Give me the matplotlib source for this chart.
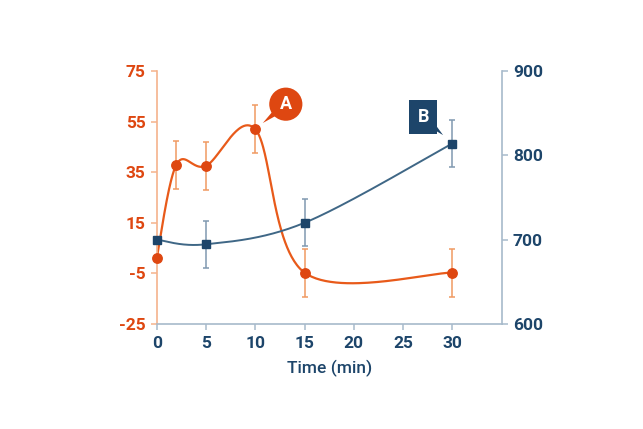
import numpy as np
import matplotlib
matplotlib.use("Agg")
import matplotlib.pyplot as plt

plt.rcParams['font.family'] = ['Roboto', 'DejaVu Sans']
plt.rcParams['axes.unicode_minus'] = False

## data
time_a = [0, 2, 5, 10, 15, 30]
vals_a = [1, 38, 37.5, 52, -4.7, -4.7]
err_a = [0, 9.5, 9.5, 9.5, 9.5, 9.5]

time_b = [0, 5, 15, 30]
vals_b = [700, 694.5, 720, 814]
err_b = [0, 28, 28, 28]

x_ticks = [0, 5, 10, 15, 20, 25, 30]
left_ticks = [-25, -5, 15, 35, 55, 75]
right_ticks = [600, 700, 800, 900]

## colours
ORANGE = '#E85A1A'
ORANGE_DARK = '#DE4711'
ORANGE_ERR = '#F09A62'
ORANGE_SPINE = '#F5B38C'
NAVY = '#1D456A'
BLUE_LINE = '#3F6786'
BLUE_ERR = '#8099B0'
GREY_SPINE = '#A7BACB'


def smooth_curve(x, y, n=60):
    # catmull-rom through the points (same as a cardinal spline, tension 0.5)
    p = np.column_stack([x, y]).astype(float)
    p = np.vstack([p[0], p, p[-1]])
    out = []
    t = np.linspace(0, 1, n)[:, None]
    for i in range(1, len(p) - 2):
        p0, p1, p2, p3 = p[i - 1], p[i], p[i + 1], p[i + 2]
        m1 = (p2 - p0) / 2
        m2 = (p3 - p1) / 2
        h00 = 2 * t ** 3 - 3 * t ** 2 + 1
        h10 = t ** 3 - 2 * t ** 2 + t
        h01 = -2 * t ** 3 + 3 * t ** 2
        h11 = t ** 3 - t ** 2
        out.append(h00 * p1 + h10 * m1 + h01 * p2 + h11 * m2)
    out = np.vstack(out)
    return out[:, 0], out[:, 1]


fig = plt.figure(figsize=(6.43, 4.29), dpi=100)
ax = fig.add_axes([0.2437, 0.2448, 0.5365, 0.5897])
ax2 = ax.twinx()

# series A (left axis)
xs, ys = smooth_curve(time_a, vals_a)
ax.plot(xs, ys, color=ORANGE, lw=1.6, zorder=2)
ax.errorbar(time_a[1:], vals_a[1:], yerr=err_a[1:], fmt='none', ecolor=ORANGE_ERR,
            elinewidth=1.1, capsize=2, capthick=1.1, zorder=3)
ax.plot(time_a, vals_a, 'o', color=ORANGE_DARK, ms=6.8, zorder=4, clip_on=False)

# series B (right axis)
xs, ys = smooth_curve(time_b, vals_b)
ax2.plot(xs, ys, color=BLUE_LINE, lw=1.4, zorder=2)
ax2.errorbar(time_b[1:], vals_b[1:], yerr=err_b[1:], fmt='none', ecolor=BLUE_ERR,
             elinewidth=1.1, capsize=2, capthick=1.1, zorder=3)
ax2.plot(time_b, vals_b, 's', color=NAVY, ms=6.3, zorder=4, clip_on=False)

ax.set_xlim(0, 35)
ax.set_ylim(-25, 75)
ax2.set_ylim(600, 900)
ax.set_xticks(x_ticks)
ax.set_yticks(left_ticks)
ax2.set_yticks(right_ticks)

for a in (ax, ax2):
    a.spines['top'].set_visible(False)
    a.set_facecolor('none')
ax.spines['right'].set_visible(False)
ax2.spines['left'].set_visible(False)
ax2.spines['bottom'].set_visible(False)
ax.spines['left'].set_color(ORANGE_SPINE)
ax.spines['bottom'].set_color(GREY_SPINE)
ax2.spines['right'].set_color(GREY_SPINE)
for sp in (ax.spines['left'], ax.spines['bottom'], ax2.spines['right']):
    sp.set_linewidth(1.2)

ax.tick_params(axis='y', colors=ORANGE_SPINE, length=4, width=1.1, pad=4)
ax.tick_params(axis='x', colors=GREY_SPINE, length=4, width=1.1, pad=5)
ax2.tick_params(axis='y', colors=GREY_SPINE, length=4, width=1.1, pad=4)
for lab in ax.get_yticklabels():
    lab.set_color(ORANGE_DARK)
    lab.set_fontsize(12.5)
    lab.set_fontweight('bold')
for lab in ax.get_xticklabels() + ax2.get_yticklabels():
    lab.set_color(NAVY)
    lab.set_fontsize(12.5)
    lab.set_fontweight('bold')

ax.set_xlabel('Time (min)', color=NAVY, fontsize=12.5, fontweight='medium', labelpad=6)

# callouts: bubble with a wedge tail pointing at the data point
ax.annotate('A', xy=(time_a[3], vals_a[3]), xytext=(22, 18), textcoords='offset points',
            ha='center', va='center', color='white', fontsize=13, fontweight='bold',
            bbox=dict(boxstyle='circle,pad=0.42', fc=ORANGE_DARK, ec='none'),
            arrowprops=dict(arrowstyle='wedge,tail_width=0.6', fc=ORANGE_DARK, ec='none',
                            patchA=None, shrinkA=0, shrinkB=7), zorder=6)
ax2.annotate('B', xy=(time_b[3], vals_b[3]), xytext=(-21, 19), textcoords='offset points',
             ha='center', va='center', color='white', fontsize=13, fontweight='bold',
             bbox=dict(boxstyle='square,pad=0.45', fc=NAVY, ec='none'),
             arrowprops=dict(arrowstyle='wedge,tail_width=0.6', fc=NAVY, ec='none',
                             patchA=None, shrinkA=0, shrinkB=9), zorder=6)

fig.savefig('out.png', dpi=100)
